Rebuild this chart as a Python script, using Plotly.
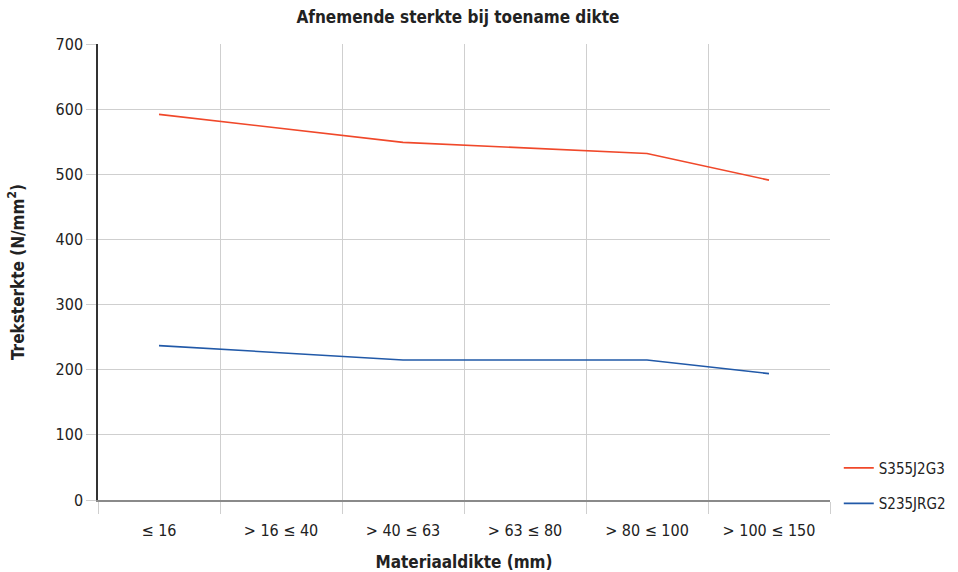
import plotly.graph_objects as go

categories = ["≤ 16", "> 16 ≤ 40", "> 40 ≤ 63", "> 63 ≤ 80", "> 80 ≤ 100", "> 100 ≤ 150"]
s355 = [592, None, 549, None, 532, 491]
s235 = [237, None, 215, None, 215, 194]

FONT = "DejaVu Sans Condensed, Liberation Sans Narrow, sans-serif"

fig = go.Figure()
fig.add_trace(go.Scatter(x=categories, y=s355, name="S355J2G3", mode="lines",
                         connectgaps=True, legendgroup="a",
                         line=dict(color="#F0482A", width=1.6)))
fig.add_trace(go.Scatter(x=categories, y=s235, name="S235JRG2", mode="lines",
                         connectgaps=True, legendgroup="b",
                         line=dict(color="#2159A8", width=1.6)))

fig.update_layout(
    width=958, height=572,
    margin=dict(l=98, r=128, t=44, b=72, autoexpand=False),
    paper_bgcolor="white", plot_bgcolor="white",
    font=dict(family=FONT, size=16, color="#222222"),
    title=dict(text="<b>Afnemende sterkte bij toename dikte</b>", x=0.478, xanchor="center",
               y=1 - 17 / 572, yanchor="middle", font=dict(size=17, family=FONT, color="#222222")),
    xaxis=dict(
        type="category", tickson="boundaries", showgrid=True, gridcolor="#cfcfcf", gridwidth=1,
        ticks="outside", ticklen=12, tickcolor="#cfcfcf", ticklabelstandoff=15,
        showline=True, linecolor="#8a8a8a", linewidth=1.5,
        tickfont=dict(size=16, family=FONT), automargin=False,
        title=dict(text="<b>Materiaaldikte (mm)</b>", font=dict(size=17, family=FONT), standoff=19),
        range=[-0.5, 5.5], fixedrange=True,
    ),
    yaxis=dict(
        range=[0, 700], dtick=100, showgrid=True, gridcolor="#cfcfcf", gridwidth=1,
        ticks="outside", ticklen=10, tickcolor="#cfcfcf",
        showline=True, linecolor="#333333", linewidth=1.5,
        zeroline=False, automargin=False,
        tickfont=dict(size=16, family=FONT),
        title=dict(text="<b>Treksterkte (N/mm<sup>2</sup>)</b>", font=dict(size=17, family=FONT), standoff=27),
    ),
    legend=dict(x=1.012, xanchor="left", y=-0.043, yanchor="bottom",
                font=dict(size=15, family=FONT), tracegroupgap=13,
                bgcolor="rgba(0,0,0,0)"),
    showlegend=True,
)

fig.write_html("out.html", config={"displayModeBar": False},
               post_script="document.body.style.margin='0';document.body.style.overflow='hidden';")
